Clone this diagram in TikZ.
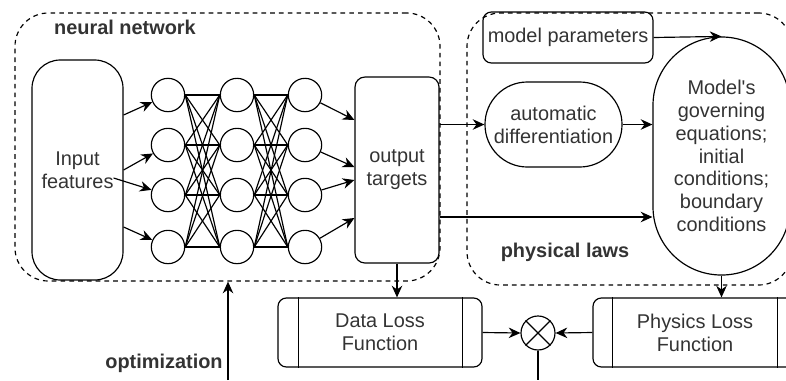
\documentclass[tikz,border=0pt]{standalone}
\usepackage{fontspec}
\setmainfont{Liberation Sans}
\usetikzlibrary{arrows.meta}

\begin{document}
\begin{tikzpicture}[x=0.03cm, y=-0.03cm, line width=1pt,
    font=\fontsize{17}{19.5}\selectfont,
    group/.style={draw, dash pattern=on 4pt off 3.5pt, rounded corners=1cm},
    box/.style={draw, align=center, inner sep=0pt, text=black!80},
    neuron/.style={draw, circle, minimum size=1cm, inner sep=0pt},
    label/.style={font=\fontsize{17}{19.5}\selectfont\bfseries, text=black!80},
    arr/.style={-{Stealth[length=10pt,width=9pt]}}]
    \useasboundingbox (0,0) rectangle (786,380);

    % Groups
    \node[group, minimum width=12.75cm, minimum height=8.04cm] (nn) at (227.5,147) {};
    \node[group, minimum width=9.75cm, minimum height=8.16cm] (phys) at (629.5,149) {};
    \node[label] (nnlabel) at (125,27) {neural network};
    \node[label] (physlabel) at (565,252) {physical laws};
    \node[label] (optlabel) at (164,363) {optimization};

    % Input and output
    \node[box, rounded corners=0.85cm, minimum width=2.73cm, minimum height=6.6cm] (in) at (77.5,170) {Input\\features};
    \node[box, rounded corners=0.3cm, minimum width=2.52cm, minimum height=5.58cm] (out) at (397,170) {output\\targets};

    % Hidden layers
    \foreach \col/\x in {1/168, 2/237, 3/305}
        \foreach \row/\y in {1/95, 2/145, 3/195, 4/247}
            \node[neuron] (n\col\row) at (\x,\y) {};

    \foreach \i in {1,...,4}
        \foreach \j in {1,...,4} {
            \draw (n1\i.east) -- (n2\j.west);
            \draw (n2\i.east) -- (n3\j.west);
        }

    % Input edges
    \draw[arr] ([yshift=1.65cm]in.east) -- (n11);
    \draw[arr] (in.east) -- (n12);
    \draw[arr] ([xshift=-0.3cm,yshift=-0.24cm]in.east) -- (n13);
    \draw[arr] ([yshift=-1.71cm]in.east) -- (n14);

    % Output edges
    \draw[arr] (n31) -- ([yshift=1.5cm]out.west);
    \draw[arr] (n32) -- ([yshift=0.09cm]out.west);
    \draw[arr] (n33) -- ([yshift=-0.3cm]out.west);
    \draw[arr] (n34) -- ([yshift=-1.44cm]out.west);

    % Physical laws
    \node[box, rounded corners=0.25cm, minimum width=5.1cm, minimum height=1.53cm] (params) at (568,37.5) {model parameters};
    \node[box, rounded corners=1.27cm, minimum width=4.11cm, minimum height=2.55cm] (ad) at (553.5,124.5) {automatic\\differentiation};
    \node[box, rounded corners=2.05cm, minimum width=4.11cm, minimum height=7.14cm] (gov) at (721.5,156) {Model\textquotesingle s\\governing\\equations;\\initial\\conditions;\\boundary\\conditions};

    \draw[arr] (params.east) -- (gov.north);
    \draw[arr] (out.east |- ad.west) -- (ad.west);
    \draw[arr] (ad.east) -- (ad.east -| gov.west);
    \draw[arr] ([yshift=-1.41cm]out.east) -- ([yshift=-1.41cm]out.east -| gov.west);

    % Loss functions
    \node[box, rounded corners=0.25cm, minimum width=6.12cm, minimum height=2.07cm] (dl) at (380,332.5) {Data Loss\\Function};
    \draw ([xshift=0.63cm]dl.north west) -- ([xshift=0.63cm]dl.south west);
    \draw ([xshift=-0.6cm]dl.north east) -- ([xshift=-0.6cm]dl.south east);
    \node[box, rounded corners=0.25cm, minimum width=6.12cm, minimum height=2.07cm] (pl) at (695,332.5) {Physics Loss\\Function};
    \draw ([xshift=0.6cm]pl.north west) -- ([xshift=0.6cm]pl.south west);
    \draw ([xshift=-0.6cm]pl.north east) -- ([xshift=-0.6cm]pl.south east);

    \node[draw, circle, minimum size=1.02cm, inner sep=0pt] (mix) at (538,333) {};
    \draw (mix.north west) -- (mix.south east);
    \draw (mix.north east) -- (mix.south west);

    \draw[arr] (out.south) -- (out.south |- dl.north);
    \draw[arr] (gov.south) -- (gov.south |- pl.north);
    \draw[arr] (dl.east) -- (mix.west);
    \draw[arr] (pl.west) -- (mix.east);

    % Optimization loop
    \coordinate (mixfoot) at (538,380);
    \coordinate (optfoot) at (228,380);
    \draw (mix.south) -- (mixfoot);
    \draw[arr] (optfoot) -- (optfoot |- nn.south);
\end{tikzpicture}
\end{document}
